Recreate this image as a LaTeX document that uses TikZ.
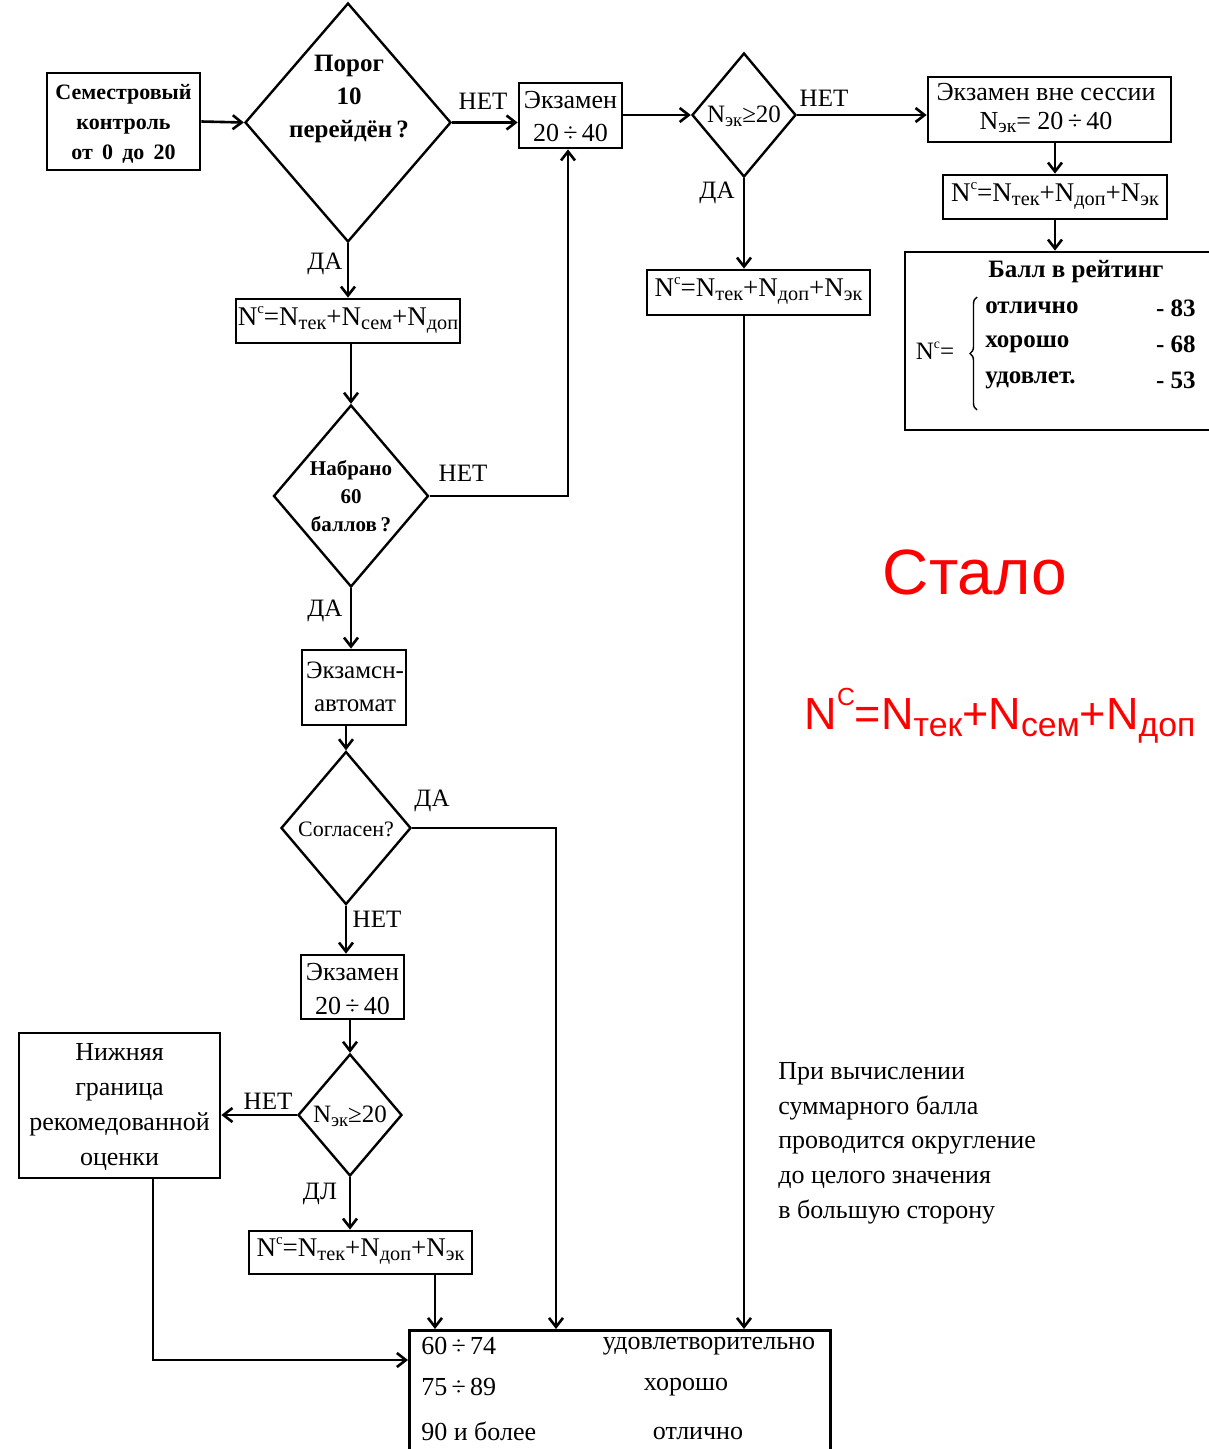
\documentclass[tikz,border=0pt]{standalone}
\usepackage{fontspec}
\setmainfont{Liberation Serif}
\newfontfamily\arialf{Liberation Sans}
\usepackage{graphicx}
\usetikzlibrary{shapes.geometric,arrows.meta,decorations.pathreplacing}
\newcommand\fz[2]{\fontsize{#1}{#2}\selectfont}
\newcommand\sbs[1]{\raisebox{-0.32ex}{\scalebox{0.75}{#1}}}
\newcommand\sps[1]{\raisebox{1.0ex}{\scalebox{0.55}{#1}}}
\begin{document}
\begin{tikzpicture}[x=1pt,y=-1pt,
  line width=2.6pt,
  box/.style={draw, line width=2.7pt, inner sep=0pt},
  dia/.style={draw, diamond, line width=2.4pt, inner sep=0pt},
  txt/.style={inner sep=0pt, align=center},
  lbl/.style={inner sep=0pt, font=\fz{25}{30}},
  arr/.style={-{Straight Barb[length=9pt,width=14pt]}}]
\fill[white] (0,0) rectangle (1209,1449);
\useasboundingbox (0,0) rectangle (1209,1449);

% boxes
\node[box, minimum width=153, minimum height=97] (sem) at (123.5,121.5) {};
\node[txt, font=\bfseries\fz{22}{30}] (semt) at (123.5,124) {Семестровый\\контроль\\от\, 0\, до\, 20};

\node[dia, minimum width=206, minimum height=239] (d1) at (348,122.5) {};
\node[txt, font=\bfseries\fz{25}{33}] (d1t) at (349,99) {Порог\\10\\перейдён\,?};

\node[box, minimum width=103, minimum height=65] (ex1) at (570.5,115.5) {};
\node[txt, font=\fz{26}{33}] (ex1t) at (570.5,117) {Экзамен\\20\,÷\,40};

\node[dia, minimum width=104, minimum height=124] (d2) at (744,115) {};
\node[txt, font=\fz{25}{30}] (d2t) at (744,116) {N\sbs{эк}≥20};

\node[box, minimum width=243, minimum height=65] (exv) at (1049.5,109.5) {};
\node[txt, font=\fz{26}{29}] (exvt) at (1046,108) {Экзамен вне сессии\\N\sbs{эк}= 20\,÷\,40};

\node[box, minimum width=224, minimum height=44] (f3) at (1055,197) {};
\node[txt, font=\fz{27}{30}] (f3t) at (1055,196) {N\sps{c}=N\sbs{тек}+N\sbs{доп}+N\sbs{эк}};

\node[box, minimum width=310, minimum height=178] (rat) at (1060,341) {};
\node[txt, font=\bfseries\fz{25}{30}] (ratt) at (1076,272) {Балл в рейтинг};
\node[txt, font=\fz{25}{30}] (ratn) at (935,351) {N\sps{c}=};
\draw[line width=1.4pt, decorate, decoration={brace, amplitude=7pt}] (977,410) -- (977,297);
\node[txt, anchor=west, font=\bfseries\fz{25}{30}] (r1) at (984,308) {отлично};
\node[txt, anchor=west, font=\bfseries\fz{25}{30}] (r2) at (984,344) {хорошо};
\node[txt, anchor=west, font=\bfseries\fz{25}{30}] (r3) at (984,380) {удовлет.};
\node[txt, anchor=east, font=\bfseries\fz{25}{30}] (v1) at (1197,308) {- 83};
\node[txt, anchor=east, font=\bfseries\fz{25}{30}] (v2) at (1197,344) {- 68};
\node[txt, anchor=east, font=\bfseries\fz{25}{30}] (v3) at (1197,380) {- 53};

\node[box, minimum width=223, minimum height=45] (f2) at (758.5,292.5) {};
\node[txt, font=\fz{27}{30}] (f2t) at (758.5,291) {N\sps{c}=N\sbs{тек}+N\sbs{доп}+N\sbs{эк}};

\node[box, minimum width=224, minimum height=44] (f1) at (348,321) {};
\node[txt, font=\fz{27}{30}] (f1t) at (348,320) {N\sps{c}=N\sbs{тек}+N\sbs{сем}+N\sbs{доп}};

\node[dia, minimum width=155, minimum height=182] (d3) at (351,496) {};
\node[txt, font=\bfseries\fz{21}{28}] (d3t) at (351,496) {Набрано\\60\\баллов\,?};

\node[box, minimum width=104, minimum height=75] (aut) at (354,687.5) {};
\node[txt, font=\fz{25}{33}] (autt) at (355,687) {Экзамсн-\\автомат};

\node[dia, minimum width=130, minimum height=153] (d4) at (346,828) {};
\node[txt, font=\fz{22}{26}] (d4t) at (346,829) {Согласен?};

\node[box, minimum width=103, minimum height=64] (ex2) at (352.5,987) {};
\node[txt, font=\fz{26}{34}] (ex2t) at (352.5,989) {Экзамен\\20\,÷\,40};

\node[dia, minimum width=104, minimum height=122] (d5) at (350,1115) {};
\node[txt, font=\fz{25}{30}] (d5t) at (350,1116) {N\sbs{эк}≥20};

\node[box, minimum width=201, minimum height=145] (low) at (119.5,1105.5) {};
\node[txt, font=\fz{26}{35}] (lowt) at (119.5,1107) {Нижняя\\граница\\рекомедованной\\оценки};

\node[box, minimum width=223, minimum height=43] (f4) at (360.5,1252.5) {};
\node[txt, font=\fz{27}{30}] (f4t) at (360.5,1251) {N\sps{c}=N\sbs{тек}+N\sbs{доп}+N\sbs{эк}};

\node[box, minimum width=421, minimum height=150, anchor=north west] (tab) at (408,1329) {};
\node[txt, anchor=west, font=\fz{26}{30}] (t1) at (420,1346) {60\,÷\,74};
\node[txt, anchor=west, font=\fz{26}{30}] (t2) at (420,1387) {75\,÷\,89};
\node[txt, anchor=west, font=\fz{26}{30}] (t3) at (420,1431) {90 и более};
\node[txt, font=\fz{26}{30}] (s1) at (709,1346) {удовлетворительно};
\node[txt, font=\fz{26}{30}] (s2) at (686,1387) {хорошо};
\node[txt, font=\fz{26}{30}] (s3) at (698,1433) {отлично};

\node[txt, anchor=west, align=left, font=\fz{26}{34.7}] (note) at (777,1143) {При вычислении\\суммарного балла\\проводится округление\\до целого значения\\в большую сторону};

\node[txt, text=red, font=\arialf\fz{64}{70}] (stalo) at (975,572) {Стало};
\node[txt, text=red, font=\arialf\fz{45}{60}] (redf) at (1000,716) {N\sps{C}=N\sbs{тек}+N\sbs{сем}+N\sbs{доп}};

% labels
\node[lbl] (l1) at (483,101) {НЕТ};
\node[lbl] (l2) at (824,98) {НЕТ};
\node[lbl] (l3) at (717,193) {ДА};
\node[lbl] (l4) at (325,264) {ДА};
\node[lbl] (l5) at (463,473) {НЕТ};
\node[lbl] (l6) at (325,611) {ДА};
\node[lbl] (l7) at (432,801) {ДА};
\node[lbl] (l8) at (377,919) {НЕТ};
\node[lbl] (l9) at (268,1101) {НЕТ};
\node[lbl] (l10) at (320,1194) {ДЛ};

% coordinates
\coordinate (c1) at (556,828);
\coordinate (c2) at (435,1274);
\coordinate (c3) at (153,1360);
\coordinate (c4) at (744,315);

% connectors
\draw[arr] (sem.east) -- (d1.west);
\draw[arr] (d1.east) -- (d1.east -| ex1.west);
\draw[arr] (d2.west -| ex1.east) -- (d2.west);
\draw[arr] (d2.east) -- (d2.east -| exv.west);
\draw[arr] (f3.north |- exv.south) -- (f3.north);
\draw[arr] (f3.south) -- (f3.south |- rat.north);
\draw[arr] (d2.south) -- (d2.south |- f2.north);
\draw[arr] (c4) -- (c4 |- tab.north);
\draw[arr] (d1.south) -- (d1.south |- f1.north);
\draw[arr] (d3.north |- f1.south) -- (d3.north);
\draw[arr] (d3.east) -- (d3.east -| 568,0) -- (568,0 |- ex1.south);
\draw[arr] (d3.south) -- (d3.south |- aut.north);
\draw[arr] (d4.north |- aut.south) -- (d4.north);
\draw[arr] (d4.east) -- (c1) -- (c1 |- tab.north);
\draw[arr] (d4.south) -- (d4.south |- ex2.north);
\draw[arr] (d5.north |- ex2.south) -- (d5.north);
\draw[arr] (d5.west) -- (d5.west -| low.east);
\draw[arr] (d5.south) -- (d5.south |- f4.north);
\draw[arr] (c2) -- (c2 |- tab.north);
\draw[arr] (c3 |- low.south) -- (c3) -- (c3 -| tab.west);
\end{tikzpicture}
\end{document}
